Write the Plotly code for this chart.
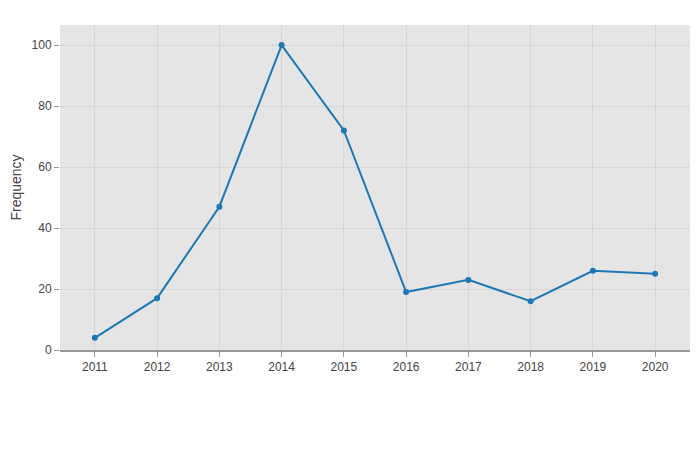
import plotly.graph_objects as go

years = [2011, 2012, 2013, 2014, 2015, 2016, 2017, 2018, 2019, 2020]
freq = [4, 17, 47, 100, 72, 19, 23, 16, 26, 25]
tick_labels = [str(y) for y in years]

fig = go.Figure(go.Scatter(
    x=years, y=freq, mode="lines+markers",
    line=dict(color="#1f77b4", width=2),
    marker=dict(color="#1f77b4", size=6),
))

fig.update_layout(
    width=700, height=450,
    margin=dict(l=52, r=18, t=17, b=108),
    plot_bgcolor="#e5e5e5", paper_bgcolor="white",
    font=dict(family="Liberation Sans, Arial, sans-serif", size=12, color="#444"),
    showlegend=False,
)
fig.update_xaxes(
    range=[2010.44, 2020.56], tickvals=years, ticktext=tick_labels,
    showgrid=True, gridcolor="#d6d6d6", gridwidth=1,
    ticks="outside", ticklen=5, tickcolor="#999",
    showline=True, linecolor="#999", linewidth=2, zeroline=False,
    automargin=False,
)
fig.update_yaxes(
    range=[0, 106.6], tickvals=[0, 20, 40, 60, 80, 100],
    title=dict(text="Frequency", font=dict(size=14)),
    showgrid=True, gridcolor="#d6d6d6", gridwidth=1,
    ticks="outside", ticklen=5, tickcolor="#999",
    showline=False, zeroline=False, automargin=False,
)

fig.write_html("out.html")
